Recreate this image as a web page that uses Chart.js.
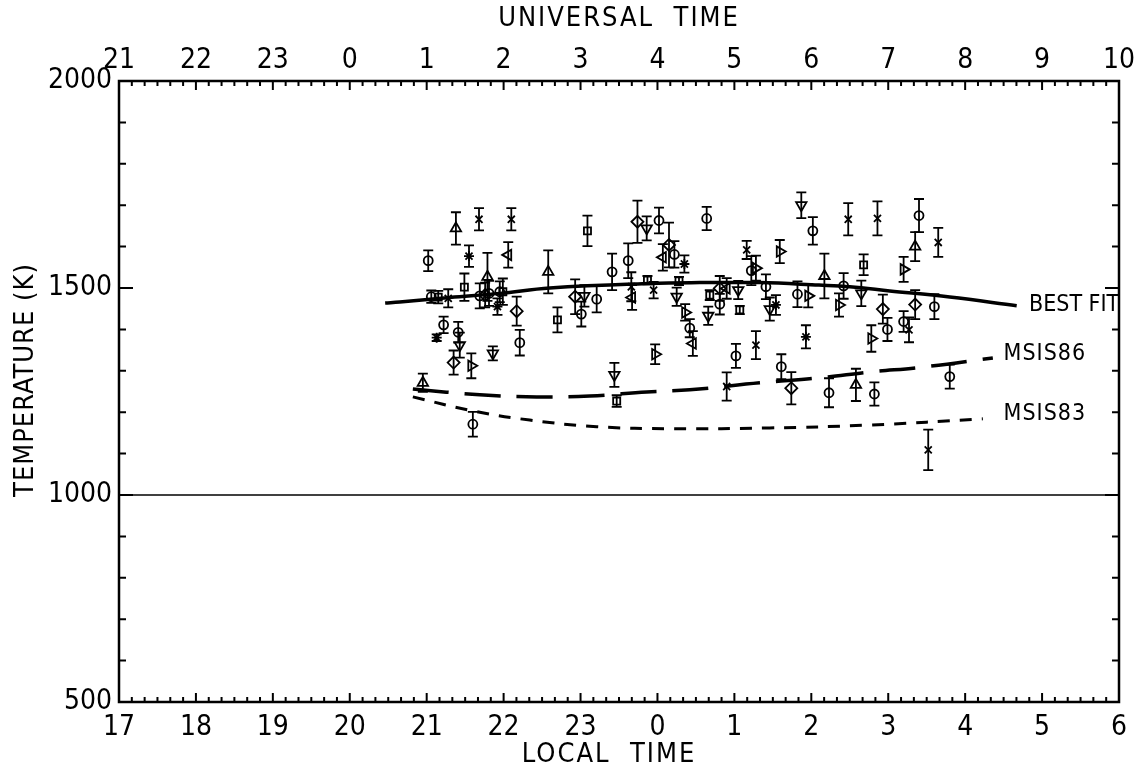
<!DOCTYPE html>
<html>
<head>
<meta charset="utf-8">
<script src="https://cdn.jsdelivr.net/npm/chart.js@4/dist/chart.umd.min.js"></script>
<style>
  body { margin: 0; background: #fff; }
  canvas { display: block; }
</style>
</head>
<body>
<canvas id="chart" width="1144" height="773"></canvas>
<script>
// Local time runs 17 .. 30 (30 = 06 next day); UT = LT + 4
const FONT = "'DejaVu Sans Condensed', 'DejaVu Sans', sans-serif";

// model curves [local time, temperature K]
const bestFit = [[20.46, 1464], [20.65, 1466], [21.30, 1477], [21.95, 1487], [22.60, 1500], [23.90, 1511],
  [24.55, 1513], [25.33, 1513], [26.10, 1507], [26.50, 1503], [27.02, 1493], [27.80, 1478], [28.67, 1457]];
const msis86 = [[20.82, 1256], [21.69, 1242], [22.43, 1237], [23.12, 1239], [23.86, 1249], [24.42, 1254],
  [25.33, 1271], [26.11, 1283], [26.76, 1297], [27.45, 1309], [28.36, 1331]];
const msis83 = [[20.82, 1237], [21.60, 1203], [22.34, 1181], [23.21, 1165], [24.20, 1160], [25.46, 1162],
  [26.76, 1169], [28.23, 1184]];

// observations [local time, temperature K, error K], one list per plotting symbol
const circles = [[21.02, 1566, 25], [21.06, 1479, 15], [21.22, 1411, 20], [21.41, 1393, 25], [21.69, 1481, 30],
  [21.81, 1487, 30], [22.21, 1368, 31], [21.60, 1171, 30], [23.01, 1437, 30], [23.21, 1473, 32], [23.41, 1539, 44],
  [23.62, 1566, 42], [24.02, 1663, 31], [24.22, 1581, 32], [24.42, 1403, 22], [24.64, 1668, 28], [24.81, 1461, 25],
  [25.22, 1542, 35], [25.41, 1503, 30], [25.02, 1336, 29], [25.61, 1310, 30], [25.82, 1485, 31], [26.02, 1638, 33],
  [26.23, 1247, 35], [26.42, 1505, 31], [26.82, 1244, 28], [26.99, 1400, 28], [27.20, 1419, 25], [27.80, 1286, 29],
  [27.40, 1675, 40], [27.60, 1455, 30], [21.95, 1491, 25]];
const trianglesUp = [[21.38, 1644, 39], [21.79, 1527, 58], [22.58, 1539, 52], [20.95, 1271, 22], [26.17, 1529, 54],
  [26.58, 1266, 39], [27.35, 1600, 35]];
const trianglesDown = [[23.86, 1644, 29], [23.05, 1481, 26], [24.25, 1479, 22], [24.66, 1433, 22], [25.05, 1495, 22],
  [25.46, 1449, 28], [25.87, 1700, 31], [26.65, 1487, 31], [21.43, 1362, 30], [21.86, 1342, 17], [23.44, 1290, 29]];
const diamonds = [[23.74, 1660, 51], [22.17, 1444, 35], [22.93, 1479, 42], [21.76, 1483, 30], [24.15, 1604, 54],
  [24.81, 1499, 30], [21.35, 1320, 29], [25.74, 1258, 39], [26.93, 1449, 35], [27.35, 1460, 35]];
const squares = [[21.49, 1502, 33], [23.09, 1638, 37], [22.70, 1423, 30], [21.99, 1491, 32], [23.87, 1519, 10],
  [24.28, 1517, 10], [24.68, 1483, 12], [25.07, 1447, 10], [23.47, 1227, 14], [26.68, 1556, 25], [21.15, 1478, 15]];
const crosses = [[21.68, 1666, 27], [22.10, 1666, 27], [21.28, 1475, 22], [25.16, 1592, 22], [26.48, 1666, 39],
  [26.86, 1668, 41], [23.95, 1495, 20], [25.28, 1362, 34], [24.90, 1262, 34], [27.52, 1109, 49], [27.27, 1399, 30],
  [23.66, 1503, 35], [27.65, 1610, 35]];
const asterisks = [[21.55, 1577, 26], [21.92, 1455, 20], [24.35, 1558, 21], [25.54, 1459, 24], [25.93, 1382, 28],
  [21.13, 1380, 8]];
const trianglesRight = [[24.36, 1441, 20], [25.28, 1548, 30], [25.59, 1588, 28], [25.96, 1481, 28], [26.36, 1459, 28],
  [26.78, 1378, 32], [21.58, 1312, 30], [23.97, 1340, 24], [27.20, 1545, 30]];
const trianglesLeft = [[22.06, 1580, 31], [24.07, 1574, 32], [24.90, 1499, 25], [24.46, 1366, 30], [23.67, 1477, 30]];

const toPts = arr => arr.map(p => ({ x: p[0], y: p[1], e: p[2] }));

function symbolSet(arr, style, radius, rotation) {
  return {
    type: 'scatter',
    data: toPts(arr),
    pointStyle: style,
    pointRadius: radius,
    pointRotation: rotation || 0,
    pointBorderColor: '#000',
    pointBackgroundColor: 'rgba(0,0,0,0)',
    pointBorderWidth: 1.8,
    errorBars: true
  };
}

function curveSet(arr, dash, width) {
  return {
    type: 'line',
    data: arr.map(p => ({ x: p[0], y: p[1] })),
    borderColor: '#000',
    borderWidth: width,
    borderDash: dash,
    pointRadius: 0,
    tension: 0.4,
    fill: false
  };
}

const axisPlugin = {
  id: 'axisPlugin',
  beforeDatasetsDraw(chart) {
    const ctx = chart.ctx, xs = chart.scales.x, ys = chart.scales.y;
    ctx.save();
    ctx.strokeStyle = '#000';
    ctx.lineWidth = 1.8;
    // error bars with caps
    chart.data.datasets.forEach(ds => {
      if (!ds.errorBars) return;
      ds.data.forEach(p => {
        const px = xs.getPixelForValue(p.x);
        const y1 = ys.getPixelForValue(p.y + p.e);
        const y2 = ys.getPixelForValue(p.y - p.e);
        ctx.beginPath();
        ctx.moveTo(px, y1); ctx.lineTo(px, y2);
        ctx.moveTo(px - 5, y1); ctx.lineTo(px + 5, y1);
        ctx.moveTo(px - 5, y2); ctx.lineTo(px + 5, y2);
        ctx.stroke();
      });
    });
    // 1000 K reference line
    const y1000 = ys.getPixelForValue(1000);
    ctx.lineWidth = 1.5;
    ctx.beginPath();
    ctx.moveTo(xs.left, y1000); ctx.lineTo(xs.right, y1000);
    ctx.stroke();
    ctx.restore();
  },
  afterDraw(chart) {
    const ctx = chart.ctx, xs = chart.scales.x, ys = chart.scales.y;
    const a = chart.chartArea;
    ctx.save();
    ctx.strokeStyle = '#000';
    ctx.lineWidth = 2.5;
    ctx.strokeRect(a.left, a.top, a.right - a.left, a.bottom - a.top);

    // inward ticks, every 10 minutes on the time axes
    ctx.lineWidth = 2;
    ctx.beginPath();
    for (let i = 0; i <= 78; i++) {
      const px = xs.getPixelForValue(17 + i / 6);
      const len = i % 6 === 0 ? 9 : 5;
      ctx.moveTo(px, a.bottom); ctx.lineTo(px, a.bottom - len);
      ctx.moveTo(px, a.top); ctx.lineTo(px, a.top + len);
    }
    // every 100 K on the temperature axis
    for (let t = 500; t <= 2000; t += 100) {
      const py = ys.getPixelForValue(t);
      const len = t % 500 === 0 ? 14 : 7;
      ctx.moveTo(a.left, py); ctx.lineTo(a.left + len, py);
      ctx.moveTo(a.right, py); ctx.lineTo(a.right - len, py);
    }
    ctx.stroke();

    // axis titles and curve labels
    ctx.fillStyle = '#000';
    ctx.textBaseline = 'middle';
    ctx.font = '27px ' + FONT;
    ctx.letterSpacing = '2px';
    ctx.textAlign = 'center';
    ctx.fillText('UNIVERSAL  TIME', (a.left + a.right) / 2, 19);
    ctx.fillText('LOCAL  TIME', (a.left + a.right) / 2 - 10, 755);
    ctx.save();
    ctx.translate(26, 380);
    ctx.rotate(-Math.PI / 2);
    ctx.letterSpacing = '1px';
    ctx.fillText('TEMPERATURE (K)', 0, 0);
    ctx.restore();

    ctx.font = '23px ' + FONT;
    ctx.textAlign = 'left';
    ctx.letterSpacing = '0px';
    ctx.fillText('BEST FIT', xs.getPixelForValue(28.83), ys.getPixelForValue(1460));
    ctx.letterSpacing = '1px';
    ctx.fillText('MSIS86', xs.getPixelForValue(28.5), ys.getPixelForValue(1340));
    ctx.fillText('MSIS83', xs.getPixelForValue(28.5), ys.getPixelForValue(1195));
    ctx.restore();
  }
};

const tickFont = { family: FONT, size: 28 };

new Chart(document.getElementById('chart'), {
  data: {
    datasets: [
      curveSet(bestFit, [], 3.5),
      curveSet(msis86, [36, 16], 3.5),
      curveSet(msis83, [12, 10], 3),
      symbolSet(circles, 'circle', 4.5),
      symbolSet(trianglesUp, 'triangle', 6),
      symbolSet(trianglesDown, 'triangle', 6, 180),
      symbolSet(diamonds, 'rectRot', 6),
      symbolSet(squares, 'rect', 5),
      symbolSet(crosses, 'crossRot', 5),
      symbolSet(asterisks, 'star', 5),
      symbolSet(trianglesRight, 'triangle', 6, 90),
      symbolSet(trianglesLeft, 'triangle', 6, -90)
    ]
  },
  options: {
    responsive: false,
    animation: false,
    layout: { padding: { left: 0, right: 25, top: 0, bottom: 0 } },
    plugins: { legend: { display: false }, tooltip: { enabled: false } },
    scales: {
      x: {
        type: 'linear', position: 'bottom', min: 17, max: 30,
        grid: { display: false, drawTicks: false }, border: { display: false },
        ticks: { stepSize: 1, autoSkip: false, maxRotation: 0, padding: 9, color: '#000', font: tickFont,
          callback: v => String(v % 24) },
        afterFit: s => { s.height = 71; }
      },
      x2: {
        type: 'linear', position: 'top', min: 17, max: 30,
        grid: { display: false, drawTicks: false }, border: { display: false },
        ticks: { stepSize: 1, autoSkip: false, maxRotation: 0, padding: 3, color: '#000', font: tickFont,
          callback: v => String((v + 4) % 24) },
        afterFit: s => { s.height = 81; }
      },
      y: {
        type: 'linear', min: 500, max: 2000,
        grid: { display: false, drawTicks: false }, border: { display: false },
        ticks: { stepSize: 500, padding: 7, color: '#000', font: tickFont, callback: v => String(v) },
        afterFit: s => { s.width = 119; }
      }
    }
  },
  plugins: [axisPlugin]
});
</script>
</body>
</html>
